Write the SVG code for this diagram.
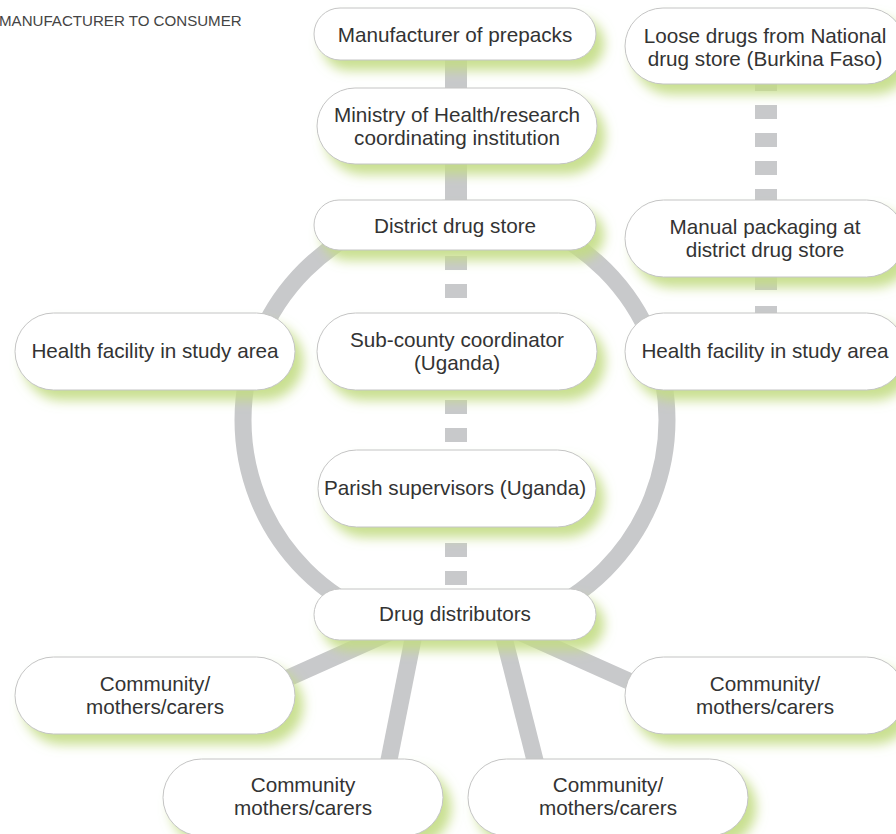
<svg xmlns="http://www.w3.org/2000/svg" width="896" height="834" viewBox="0 0 896 834">
<defs>
<filter id="sh" x="-10%" y="-40%" width="130%" height="190%">
<feGaussianBlur in="SourceAlpha" stdDeviation="6" result="b"/>
<feOffset in="b" dx="8" dy="10" result="o"/>
<feFlood flood-color="#c3dc84" flood-opacity="0.9"/>
<feComposite in2="o" operator="in" result="g"/>
<feMerge><feMergeNode in="g"/><feMergeNode in="SourceGraphic"/></feMerge>
</filter>
</defs>
<style>
.pill{fill:#fff;stroke:#c4c4c4;stroke-width:1;filter:url(#sh)}
.t{font-family:"Liberation Sans",Arial,sans-serif;font-size:20.7px;fill:#333;text-anchor:middle}
.title{font-family:"Liberation Sans",Arial,sans-serif;font-size:15.1px;fill:#444}
.bar{fill:#c8c9cb}
.ln{stroke:#c8c9cb;stroke-width:17;fill:none}
</style>
<rect width="896" height="834" fill="#fff"/>
<text class="title" x="-1" y="26">MANUFACTURER TO CONSUMER</text>
<g id="connectors">
<circle class="ln" cx="455" cy="420" r="212" stroke-width="16"/>
<rect class="bar" x="445" y="55" width="22" height="38"/>
<rect class="bar" x="445" y="158" width="22" height="47"/>
<rect class="bar" x="445" y="256" width="22" height="14"/>
<rect class="bar" x="445" y="284" width="22" height="14"/>
<rect class="bar" x="445" y="400" width="22" height="14"/>
<rect class="bar" x="445" y="428" width="22" height="14"/>
<rect class="bar" x="445" y="543" width="22" height="14"/>
<rect class="bar" x="445" y="571" width="22" height="14"/>
<rect class="bar" x="755" y="77" width="22" height="14"/>
<rect class="bar" x="755" y="105" width="22" height="14"/>
<rect class="bar" x="755" y="133" width="22" height="14"/>
<rect class="bar" x="755" y="161" width="22" height="14"/>
<rect class="bar" x="755" y="189" width="22" height="14"/>
<rect class="bar" x="755" y="274" width="22" height="16"/>
<rect class="bar" x="755" y="306" width="22" height="14"/>
<line class="ln" x1="440" y1="610" x2="250" y2="695"/>
<line class="ln" x1="470" y1="610" x2="660" y2="695"/>
<line class="ln" x1="418" y1="614" x2="385" y2="780"/>
<line class="ln" x1="498" y1="614" x2="540" y2="780"/>
</g>
<g id="n-manufacturer"><rect class="pill" x="314" y="8" width="282" height="52" rx="26"/><text class="t" x="455" y="42">Manufacturer of prepacks</text></g>
<g id="n-ministry"><rect class="pill" x="317" y="88" width="280" height="76" rx="38"/><text class="t" x="457" y="122">Ministry of Health/research</text><text class="t" x="457" y="145">coordinating institution</text></g>
<g id="n-district"><rect class="pill" x="314" y="200" width="282" height="50" rx="25"/><text class="t" x="455" y="233">District drug store</text></g>
<g id="n-subcounty"><rect class="pill" x="317" y="313" width="280" height="77" rx="38.5"/><text class="t" x="457" y="347">Sub-county coordinator</text><text class="t" x="457" y="370">(Uganda)</text></g>
<g id="n-parish"><rect class="pill" x="318" y="450" width="278" height="77" rx="38.5"/><text class="t" x="455" y="495">Parish supervisors (Uganda)</text></g>
<g id="n-distributors"><rect class="pill" x="314" y="589" width="282" height="51" rx="25.5"/><text class="t" x="455" y="621">Drug distributors</text></g>
<g id="n-hf-left"><rect class="pill" x="15" y="313" width="280" height="77" rx="38.5"/><text class="t" x="155" y="358">Health facility in study area</text></g>
<g id="n-hf-right"><rect class="pill" x="625" y="313" width="280" height="77" rx="38.5"/><text class="t" x="765" y="358">Health facility in study area</text></g>
<g id="n-loose"><rect class="pill" x="625" y="8" width="280" height="76" rx="38"/><text class="t" x="765" y="43">Loose drugs from National</text><text class="t" x="765" y="66">drug store (Burkina Faso)</text></g>
<g id="n-manual"><rect class="pill" x="625" y="200" width="280" height="77" rx="38.5"/><text class="t" x="765" y="234">Manual packaging at</text><text class="t" x="765" y="257">district drug store</text></g>
<g id="n-comm-left"><rect class="pill" x="15" y="657" width="280" height="77" rx="38.5"/><text class="t" x="155" y="691">Community/</text><text class="t" x="155" y="714">mothers/carers</text></g>
<g id="n-comm-right"><rect class="pill" x="625" y="657" width="280" height="77" rx="38.5"/><text class="t" x="765" y="691">Community/</text><text class="t" x="765" y="714">mothers/carers</text></g>
<g id="n-comm-bl"><rect class="pill" x="163" y="759" width="280" height="77" rx="38.5"/><text class="t" x="303" y="792">Community</text><text class="t" x="303" y="815">mothers/carers</text></g>
<g id="n-comm-br"><rect class="pill" x="468" y="759" width="280" height="77" rx="38.5"/><text class="t" x="608" y="792">Community/</text><text class="t" x="608" y="815">mothers/carers</text></g>
</svg>
